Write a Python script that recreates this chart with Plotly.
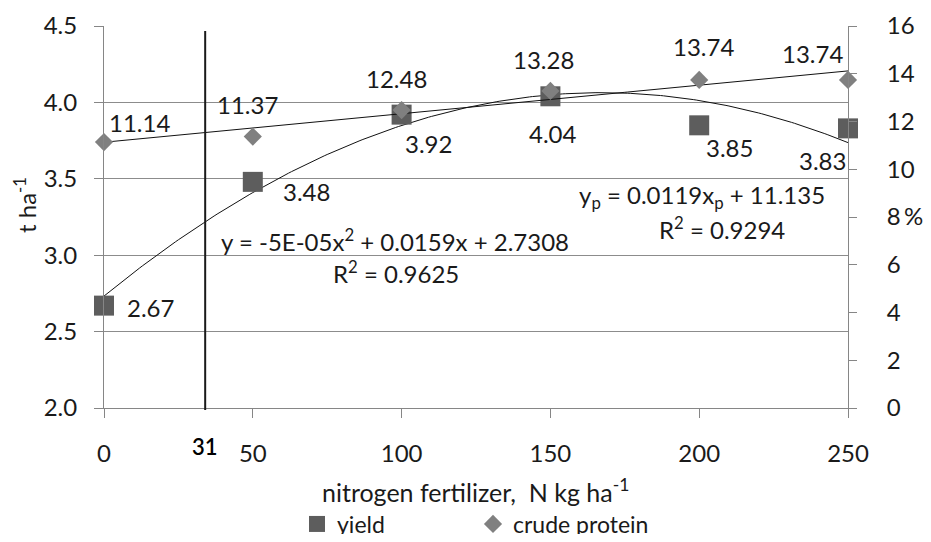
import numpy as np
import plotly.graph_objects as go

# ---------------- data ----------------
n_rate = [0, 50, 100, 150, 200, 250]
yield_t = [2.67, 3.48, 3.92, 4.04, 3.85, 3.83]
protein_pct = [11.14, 11.37, 12.48, 13.28, 13.74, 13.74]
x_ticks = [0, 50, 100, 150, 200, 250]
yield_ticks = [2.0, 2.5, 3.0, 3.5, 4.0, 4.5]
protein_ticks = [0, 2, 4, 6, 8, 10, 12, 14, 16]
marker_line_x = 34
marker_line_label = "31"
eq_yield = "y = -5E-05x<sup>2</sup> + 0.0159x + 2.7308"
r2_yield = "R<sup>2</sup> = 0.9625"
eq_protein = "y<sub>p</sub> = 0.0119x<sub>p</sub> + 11.135"
r2_protein = "R<sup>2</sup> = 0.9294"

# ---------------- style ----------------
FONT = "Lato, Liberation Sans, Arial, sans-serif"
FS = 24
TXT = "#1a1a1a"
AX = "#868686"
# label offsets in px (dx right, dy down)
yield_off = [(46, 2), (54, 10), (27, 29), (3, 37), (30, 22), (-26, 32)]
prot_off = [(35, -20), (-5, -32), (-5, -32), (-7, -31), (4, -33), (-36, -26)]

# trendlines fitted from the data
xs = np.linspace(min(n_rate), max(n_rate), 251)
qy = np.polyval(np.polyfit(n_rate, yield_t, 2), xs)
lp = np.polyval(np.polyfit(n_rate, protein_pct, 1), xs)

fig = go.Figure()
fig.add_trace(go.Scatter(x=xs, y=qy, mode="lines", line=dict(color="#111", width=1),
                         showlegend=False, hoverinfo="skip", cliponaxis=False))
fig.add_trace(go.Scatter(x=xs, y=lp, mode="lines", line=dict(color="#111", width=1),
                         showlegend=False, hoverinfo="skip", yaxis="y2", cliponaxis=False))
fig.add_trace(go.Scatter(x=n_rate, y=yield_t, mode="markers", name="yield",
                         marker=dict(symbol="square", size=20, color="#5d5d5d"),
                         cliponaxis=False, legend="legend"))
fig.add_trace(go.Scatter(x=n_rate, y=protein_pct, mode="markers", name="crude protein",
                         marker=dict(symbol="diamond", size=14, color="#808080"),
                         yaxis="y2", cliponaxis=False, legend="legend2"))

ann = []
for x, v, (dx, dy) in zip(n_rate, yield_t, yield_off):
    ann.append(dict(x=x, y=v, xref="x", yref="y", text=f"{v:.2f}", showarrow=False,
                    xanchor="center", yanchor="middle",
                    xshift=dx, yshift=-dy, font=dict(size=FS, color=TXT)))
for x, v, (dx, dy) in zip(n_rate, protein_pct, prot_off):
    ann.append(dict(x=x, y=v, xref="x", yref="y2", text=f"{v:.2f}", showarrow=False,
                    xanchor="center", yanchor="middle",
                    xshift=dx, yshift=-dy, font=dict(size=FS, color=TXT)))

# page body adds an 8px offset; plot area target: x 104..848, y 26..408 (page px)
def px2paper(px, py):
    return (px - 104) / 744.0, (408 - py) / 382.0

def label(text, px, py, size=FS, **kw):
    xp, yp = px2paper(px, py)
    d = dict(x=xp, y=yp, xref="paper", yref="paper", text=text, showarrow=False,
             xanchor="center", yanchor="middle", font=dict(size=size, color=TXT))
    d.update(kw)
    ann.append(d)

label(eq_yield, 395, 240)
label(r2_yield, 396, 272)
label(eq_protein, 702, 197)
label(r2_protein, 722, 228)

# axis titles
label("t ha<sup>-1</sup>", 25, 205, textangle=-90)
label("%", 914, 215)
label("nitrogen fertilizer,  N kg ha<sup>-1</sup>", 475, 490, size=25)
# vertical marker label
ann.append(dict(x=marker_line_x, y=(408 - 446) / 382.0, xref="x", yref="paper",
                text=marker_line_label, showarrow=False, xanchor="center", yanchor="middle",
                font=dict(size=22, color="#000", weight=600)))

fig.add_shape(type="line", xref="x", yref="paper", x0=marker_line_x, x1=marker_line_x,
              y0=-0.005, y1=0.987, line=dict(color="#1a1a1a", width=2))

leg_y = (408 - 524) / 382.0
fig.update_layout(
    width=923, height=526,
    margin=dict(l=96, r=83, t=18, b=126, autoexpand=False),
    paper_bgcolor="white", plot_bgcolor="white",
    font=dict(family=FONT, size=FS, color=TXT),
    xaxis=dict(range=[0, 250], tickvals=x_ticks, showgrid=False, zeroline=False,
               showline=True, linecolor=AX, ticks="outside", ticklen=9, tickcolor=AX,
               ticklabelstandoff=15, automargin=False),
    yaxis=dict(range=[2, 4.5], tickvals=yield_ticks, tickformat=".1f", showgrid=True,
               gridcolor="#8c8c8c", gridwidth=1, zeroline=False, showline=True,
               linecolor=AX, ticks="outside", ticklen=9, tickcolor=AX,
               ticklabelstandoff=12, automargin=False),
    yaxis2=dict(range=[0, 16], tickvals=protein_ticks, overlaying="y", side="right",
                showgrid=False, zeroline=False, showline=True, linecolor=AX,
                ticks="outside", ticklen=8, tickcolor=AX, ticklabelstandoff=25,
                automargin=False),
    legend=dict(orientation="h", x=(297 - 104) / 744.0, xanchor="left", y=leg_y,
                yanchor="middle", font=dict(size=23), itemwidth=30),
    legend2=dict(orientation="h", x=(473 - 104) / 744.0, xanchor="left", y=leg_y,
                 yanchor="middle", font=dict(size=23), itemwidth=30),
    annotations=ann,
    showlegend=True,
)

fig.write_html("out.html")
